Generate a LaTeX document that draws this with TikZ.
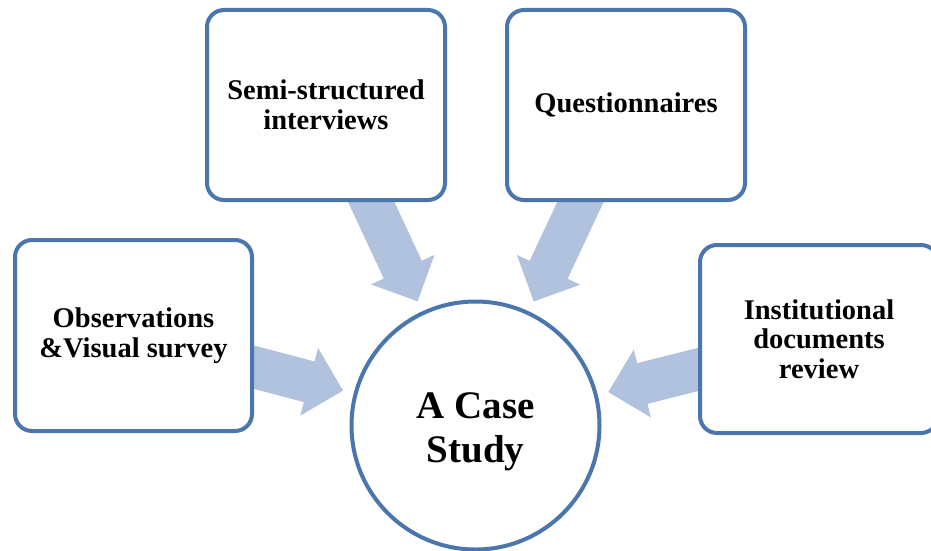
\documentclass[tikz,border=0pt]{standalone}
\usepackage{fontspec}
\setmainfont{Liberation Serif}
\usetikzlibrary{calc,backgrounds}

\definecolor{edgeblue}{RGB}{74,118,173}
\definecolor{arrowblue}{RGB}{176,194,222}

% Block arrow from the centre of a source box towards the case-study circle;
% the part under the box is hidden by the box's white fill.
\newcommand\flowarrow[2]{%
  \coordinate (#1-tip) at ($(#2.center)!137pt!(#1.center)$);
  \coordinate (#1-neck) at ($(#1-tip)!35pt!(#1.center)$);
  \fill[arrowfill]
    ($(#1.center)!21pt!90:(#1-tip)$) --
    ($(#1-neck)!21pt!90:(#1-tip)$) --
    ($(#1-neck)!35pt!90:(#1-tip)$) --
    (#1-tip) --
    ($(#1-neck)!35pt!-90:(#1-tip)$) --
    ($(#1-neck)!21pt!-90:(#1-tip)$) --
    ($(#1.center)!21pt!-90:(#1-tip)$) -- cycle;
}

\tikzset{
  method/.style={draw=edgeblue, line width=4pt, fill=white, rounded corners=17pt,
    rectangle, align=center, inner sep=0pt,
    font=\fontsize{28.5}{29.5}\selectfont\bfseries},
  hub/.style={draw=edgeblue, line width=4pt, fill=white, circle, inner sep=0pt,
    minimum size=248pt},
  hubtext/.style={align=center, inner sep=0pt,
    font=\fontsize{39}{44}\selectfont\bfseries},
  arrowfill/.style={fill=arrowblue}
}

\begin{document}
\begin{tikzpicture}[x=1pt, y=-1pt]
  \useasboundingbox (0,0) rectangle (931,551);

  % central circle
  \node[hub] (cs) at (475.5,425.5) {};
  \node[hubtext] (cstext) at ([yshift=-6pt]cs.center) {A Case\\Study};

  % data-collection methods
  \node[method, minimum width=237pt, minimum height=191pt] (obs) at (133.5,335.5)
    {Observations\\\&Visual survey};
  \node[method, minimum width=238pt, minimum height=190pt] (int) at (326,105)
    {Semi-structured\\interviews};
  \node[method, minimum width=238pt, minimum height=190pt] (que) at (626,105)
    {Questionnaires};
  \node[method, minimum width=238pt, minimum height=188pt] (doc) at (819,339)
    {Institutional\\documents\\review};

  % block arrows behind the boxes
  \begin{scope}[on background layer]
    \flowarrow{obs}{cs}
    \flowarrow{int}{cs}
    \flowarrow{que}{cs}
    \flowarrow{doc}{cs}
  \end{scope}
\end{tikzpicture}
\end{document}
